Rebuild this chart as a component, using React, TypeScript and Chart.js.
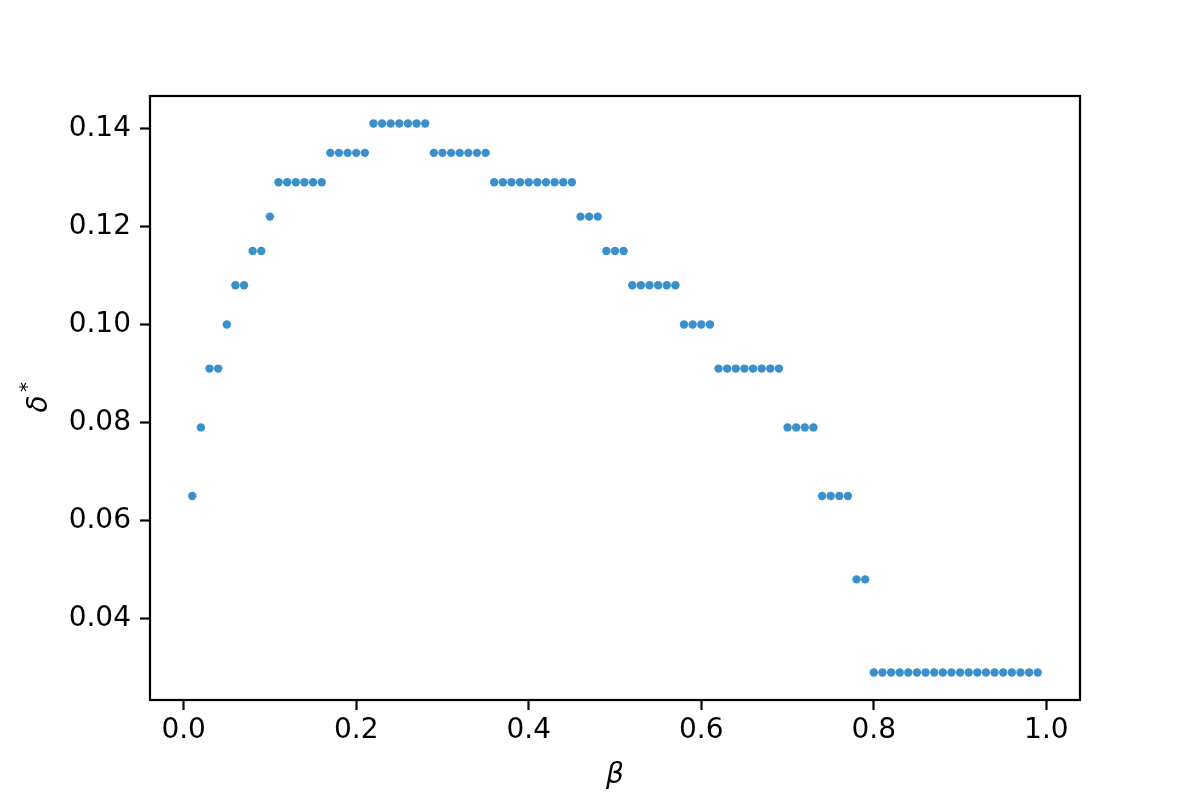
import React, { useEffect, useRef } from 'react';
import { Chart, registerables } from 'chart.js';

Chart.register(...registerables);

const betaValues = [
  0.01, 0.02, 0.03, 0.04, 0.05, 0.06, 0.07, 0.08, 0.09, 0.10,
  0.11, 0.12, 0.13, 0.14, 0.15, 0.16, 0.17, 0.18, 0.19, 0.20,
  0.21, 0.22, 0.23, 0.24, 0.25, 0.26, 0.27, 0.28, 0.29, 0.30,
  0.31, 0.32, 0.33, 0.34, 0.35, 0.36, 0.37, 0.38, 0.39, 0.40,
  0.41, 0.42, 0.43, 0.44, 0.45, 0.46, 0.47, 0.48, 0.49, 0.50,
  0.51, 0.52, 0.53, 0.54, 0.55, 0.56, 0.57, 0.58, 0.59, 0.60,
  0.61, 0.62, 0.63, 0.64, 0.65, 0.66, 0.67, 0.68, 0.69, 0.70,
  0.71, 0.72, 0.73, 0.74, 0.75, 0.76, 0.77, 0.78, 0.79, 0.80,
  0.81, 0.82, 0.83, 0.84, 0.85, 0.86, 0.87, 0.88, 0.89, 0.90,
  0.91, 0.92, 0.93, 0.94, 0.95, 0.96, 0.97, 0.98, 0.99,
];

const deltaValues = [
  0.065, 0.079, 0.091, 0.091, 0.100, 0.108, 0.108, 0.115, 0.115, 0.122,
  0.129, 0.129, 0.129, 0.129, 0.129, 0.129, 0.135, 0.135, 0.135, 0.135,
  0.135, 0.141, 0.141, 0.141, 0.141, 0.141, 0.141, 0.141, 0.135, 0.135,
  0.135, 0.135, 0.135, 0.135, 0.135, 0.129, 0.129, 0.129, 0.129, 0.129,
  0.129, 0.129, 0.129, 0.129, 0.129, 0.122, 0.122, 0.122, 0.115, 0.115,
  0.115, 0.108, 0.108, 0.108, 0.108, 0.108, 0.108, 0.100, 0.100, 0.100,
  0.100, 0.091, 0.091, 0.091, 0.091, 0.091, 0.091, 0.091, 0.091, 0.079,
  0.079, 0.079, 0.079, 0.065, 0.065, 0.065, 0.065, 0.048, 0.048, 0.029,
  0.029, 0.029, 0.029, 0.029, 0.029, 0.029, 0.029, 0.029, 0.029, 0.029,
  0.029, 0.029, 0.029, 0.029, 0.029, 0.029, 0.029, 0.029, 0.029,
];

const xTickValues = [0.0, 0.2, 0.4, 0.6, 0.8, 1.0];
const yTickValues = [0.04, 0.06, 0.08, 0.10, 0.12, 0.14];

const xAxisTitle = 'β';
const yAxisTitle = 'δ';
const yAxisTitleSup = '*';

export default function App() {
  const canvasRef = useRef<HTMLCanvasElement>(null);

  useEffect(() => {
    if (!canvasRef.current) return;

    const framePlugin = {
      id: 'frame',
      afterDatasetsDraw(chart: any) {
        const { ctx, chartArea: a } = chart;
        ctx.save();
        ctx.strokeStyle = '#000';
        ctx.lineWidth = 2.2;
        ctx.strokeRect(a.left, a.top, a.right - a.left, a.bottom - a.top);
        ctx.restore();
      },
    };

    const titlePlugin = {
      id: 'axisTitles',
      afterDraw(chart: any) {
        const { ctx, chartArea: a } = chart;
        ctx.save();
        ctx.fillStyle = '#000';
        ctx.textAlign = 'center';
        ctx.textBaseline = 'middle';
        ctx.font = 'italic 28px "DejaVu Sans"';
        ctx.fillText(xAxisTitle, (a.left + a.right) / 2, 776);
        ctx.translate(40, (a.top + a.bottom) / 2);
        ctx.rotate(-Math.PI / 2);
        ctx.fillText(yAxisTitle, -6, 0);
        ctx.font = '20px "DejaVu Sans"';
        ctx.fillText(yAxisTitleSup, 11, -12);
        ctx.restore();
      },
    };

    const tickFont = { family: '"DejaVu Sans"', size: 28 };

    const chart = new Chart(canvasRef.current, {
      type: 'scatter',
      data: {
        datasets: [
          {
            data: betaValues.map((b, i) => ({ x: b, y: deltaValues[i] })),
            pointBackgroundColor: '#3990CC',
            pointBorderWidth: 0,
            pointRadius: 4.2,
            pointHoverRadius: 4.2,
          },
        ],
      },
      options: {
        responsive: false,
        animation: false,
        layout: { padding: { top: 96, right: 120, left: 0, bottom: 0 } },
        plugins: { legend: { display: false }, tooltip: { enabled: false } },
        scales: {
          x: {
            type: 'linear',
            min: -0.039,
            max: 1.039,
            afterBuildTicks: (s: any) => {
              s.ticks = xTickValues.map((v) => ({ value: v }));
            },
            afterFit: (s: any) => {
              s.height = 100;
            },
            grid: {
              drawOnChartArea: false,
              drawTicks: true,
              tickLength: 10,
              tickWidth: 2.2,
              tickColor: '#000',
            },
            border: { display: false },
            ticks: {
              color: '#000',
              font: tickFont,
              padding: 4,
              maxRotation: 0,
              autoSkip: false,
              callback: (v: any) => Number(v).toFixed(1),
            },
          },
          y: {
            type: 'linear',
            min: 0.0234,
            max: 0.1466,
            afterBuildTicks: (s: any) => {
              s.ticks = yTickValues.map((v) => ({ value: v }));
            },
            afterFit: (s: any) => {
              s.width = 150;
            },
            grid: {
              drawOnChartArea: false,
              drawTicks: true,
              tickLength: 10,
              tickWidth: 2.2,
              tickColor: '#000',
            },
            border: { display: false },
            ticks: {
              color: '#000',
              font: tickFont,
              padding: 9,
              autoSkip: false,
              callback: (v: any) => Number(v).toFixed(2),
            },
          },
        },
      },
      plugins: [framePlugin, titlePlugin],
    } as any);

    return () => chart.destroy();
  }, []);

  return (
    <div style={{ position: 'fixed', left: 0, top: 0, width: 1200, height: 800, background: '#fff' }}>
      <canvas ref={canvasRef} width={1200} height={800} style={{ width: 1200, height: 800, display: 'block' }} />
    </div>
  );
}
